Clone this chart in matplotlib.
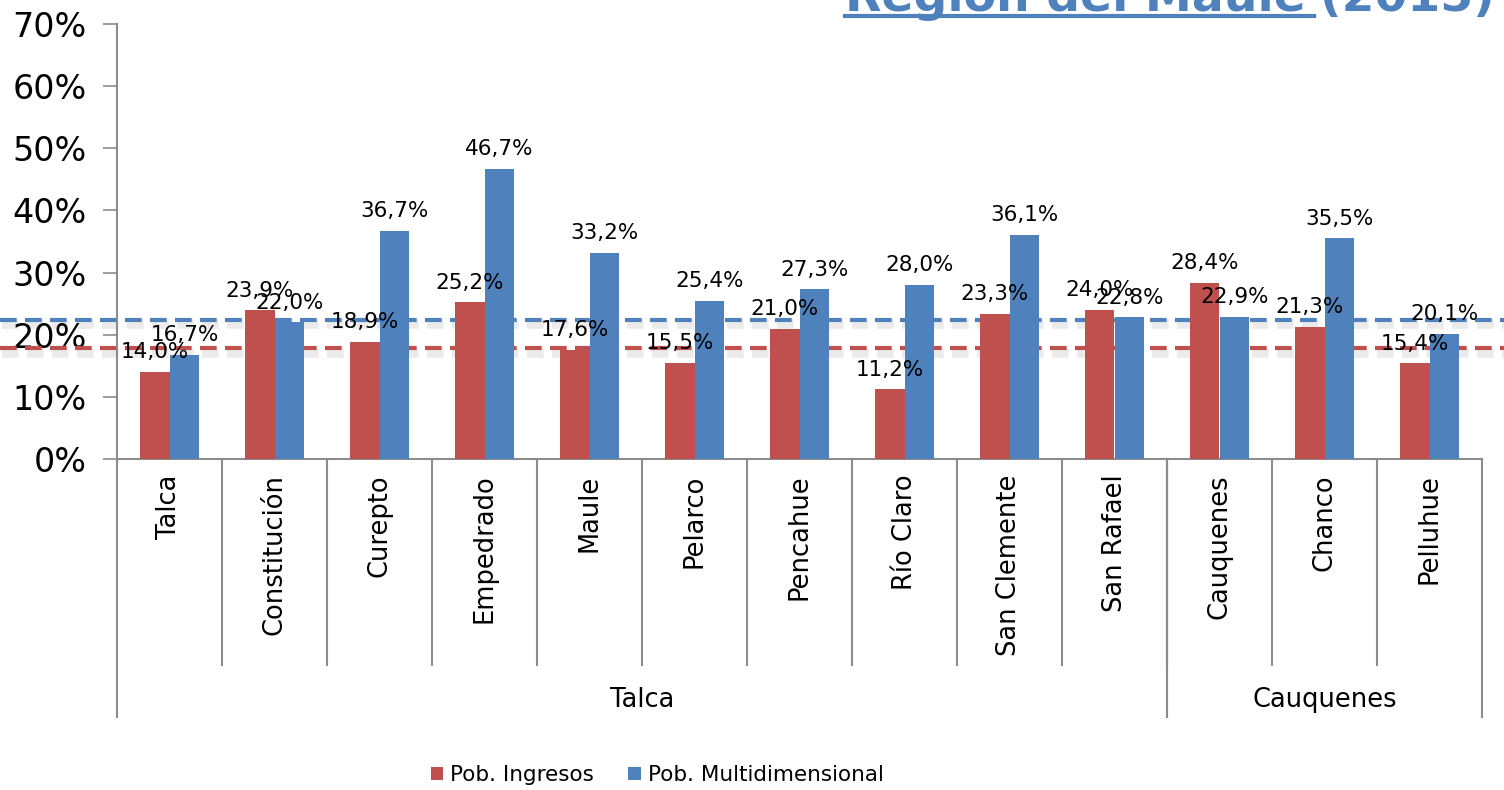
import numpy as np
import matplotlib.pyplot as plt
import matplotlib.transforms as mtransforms
import matplotlib.patheffects as pe

# ─── DATA ────────────────────────────────────────────────────────────────────
comunas = ["Talca", "Constitución", "Curepto", "Empedrado", "Maule", "Pelarco",
           "Pencahue", "Río Claro", "San Clemente", "San Rafael",
           "Cauquenes", "Chanco", "Pelluhue"]
provincias = ["Talca", "Cauquenes"]
provincia_n = [10, 3]
ingresos = [14.0, 23.9, 18.9, 25.2, 17.6, 15.5, 21.0, 11.2, 23.3, 24.0, 28.4, 21.3, 15.4]
multidim = [16.7, 22.0, 36.7, 46.7, 33.2, 25.4, 27.3, 28.0, 36.1, 22.8, 22.9, 35.5, 20.1]
media_region = {"ingresos": 17.8, "multidim": 22.4}

RED = "#C0504D"
BLUE = "#4F81BD"
GRAY = "#8C8C8C"

plt.rcParams["font.family"] = ["DejaVu Sans"]

fig = plt.figure(figsize=(15.04, 7.9), dpi=100)
ax = fig.add_axes([117 / 1504, 1 - 459 / 790, 1365 / 1504, 435 / 790])

x = np.arange(len(comunas))
w = 0.285
b1 = ax.bar(x - w / 2, ingresos, w, color=RED, label="Pob. Ingresos", zorder=3)
b2 = ax.bar(x + w / 2, multidim, w, color=BLUE, label="Pob. Multidimensional", zorder=3)

for bars, vals in ((b1, ingresos), (b2, multidim)):
    for r, v in zip(bars, vals):
        ax.annotate(f"{v:.1f}%".replace(".", ","),
                    (r.get_x() + r.get_width() / 2, v),
                    xytext=(0, 7), textcoords="offset points",
                    ha="center", va="bottom", fontsize=15.5, zorder=5)

ax.set_xlim(-0.5, len(comunas) - 0.5)
ax.set_ylim(0, 70)
ax.set_yticks(range(0, 71, 10))
ax.set_yticklabels([f"{t}%" for t in range(0, 71, 10)], fontsize=24)
ax.tick_params(axis="y", length=10, width=1.2, color=GRAY, pad=12)

ax.set_xticks(x)
ax.set_xticklabels(comunas, rotation=90, fontsize=18.5, va="top")
ax.tick_params(axis="x", length=0, pad=11)

for s in ("top", "right"):
    ax.spines[s].set_visible(False)
for s in ("left", "bottom"):
    ax.spines[s].set_color(GRAY)
    ax.spines[s].set_linewidth(1.5)

# category separators below the axis
trans = mtransforms.blended_transform_factory(ax.transData, ax.transAxes)
for i in range(1, len(comunas)):
    ax.plot([i - 0.5, i - 0.5], [0, -0.474], transform=trans, color=GRAY,
            lw=1.5, clip_on=False)

# province groups
start = -0.5
for name, n in zip(provincias, provincia_n):
    end = start + n
    for xe in (start, end):
        ax.plot([xe, xe], [0, -0.593], transform=trans, color=GRAY,
                lw=1.5, clip_on=False)
    ax.text((start + end) / 2, -0.554, name, transform=trans,
            ha="center", va="center", fontsize=18.5)
    start = end

# regional averages, drawn across the whole slide
ftrans = mtransforms.blended_transform_factory(fig.transFigure, ax.transData)
for key, col in (("ingresos", RED), ("multidim", BLUE)):
    y = media_region[key]
    ax.plot([0, 1], [y, y], transform=ftrans, color=col, lw=3,
            linestyle=(0, (4, 2)), clip_on=False, zorder=2,
            path_effects=[pe.SimpleLineShadow(offset=(1.5, -3), alpha=0.08,
                                              linewidth=7),
                          pe.Normal()])

# title, cut at the top of the slide
t1 = fig.text(845 / 1504, 1 - 11 / 790, "Región del Maule", color=BLUE,
              fontsize=34, fontweight="bold", ha="left", va="baseline")
fig.canvas.draw()
bb = t1.get_window_extent().transformed(fig.transFigure.inverted())
fig.text(bb.x1 + 14 / 1504, 1 - 11 / 790, "(2015)", color=BLUE,
         fontsize=34, fontweight="bold", ha="left", va="baseline")
fig.add_artist(plt.Line2D([bb.x0, bb.x1 + 8 / 1504], [1 - 15.5 / 790, 1 - 15.5 / 790],
                          color=BLUE, lw=3, transform=fig.transFigure))

fig.legend(handles=[b1, b2], loc="center", bbox_to_anchor=(657 / 1504, 1 - 775 / 790),
           ncol=2, frameon=False, fontsize=15.5, handlelength=0.6, handleheight=0.6,
           handletextpad=0.3, columnspacing=1.6)

plt.savefig("out.png", dpi=100)
